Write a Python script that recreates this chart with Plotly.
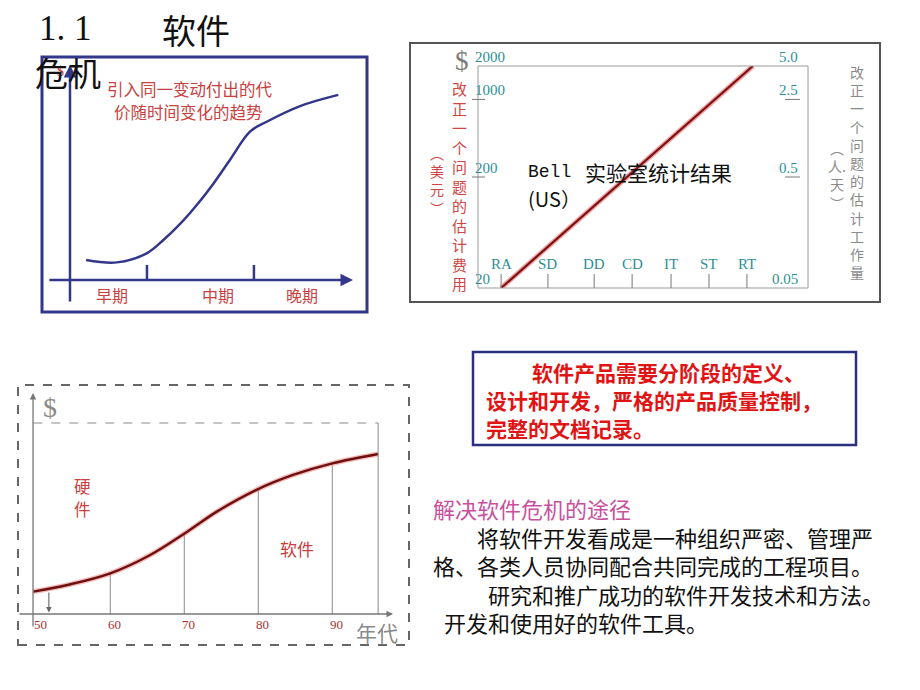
import math
import plotly.graph_objects as go

W, H = 920, 690
CJK = "Noto Sans CJK SC"
SERIF = "Liberation Serif"
MONO = "Liberation Mono"

# ---------------- data ----------------
# Panel 1: cost of introducing the same change over time (conceptual)
p1_time = [0.57, 1.65, 2.71, 3.30, 3.89, 4.48, 5.06, 5.65, 6.36, 6.95, 8.13, 9.48]
p1_cost = [0.93, 0.82, 1.24, 1.86, 2.61, 3.49, 4.47, 5.58, 6.90, 7.36, 8.09, 8.61]
p1_stage_bounds = [2.72, 6.50]
p1_stage_names = ["早期", "中期", "晚期"]
p1_stage_centers = [1.48, 5.23, 8.20]

# Panel 2: Bell Labs statistics (log scales)
phases = ["RA", "SD", "DD", "CD", "IT", "ST", "RT"]
phase_pos = [0.70, 2.12, 3.52, 4.67, 5.85, 7.00, 8.15]
line_x = phase_pos + [8.33]
line_cost = [20, 47, 110, 220, 450, 900, 1800, 2000]
left_ticks = [20, 200, 1000, 2000]
left_tick_text = ["20", "200", "1000", "2000"]
right_ticks = [0.05, 0.5, 2.5, 5.0]
right_tick_text = ["0.05", "0.5", "2.5", "5.0"]

# Panel 3: software share of cost by decade
years = [49.6, 54.2, 60.0, 65.4, 70.4, 74.4, 79.7, 84.7, 90.0, 96.2]
sw_share = [11.7, 15.2, 21.3, 30.9, 43.1, 53.6, 64.9, 72.8, 78.9, 83.8]
decades = [50, 60, 70, 80, 90]
decade_lines = [60, 70, 80, 90]
decade_line_share = [21.3, 42.0, 65.0, 78.9]

# Text blocks
box_lines = ["软件产品需要分阶段的定义、", "设计和开发，严格的产品质量控制，", "完整的文档记录。"]
way_title = "解决软件危机的途径"
way_lines = ["\u3000\u3000将软件开发看成是一种组织严密、管理严",
             "格、各类人员协同配合共同完成的工程项目。",
             "\u3000\u3000\u2002研究和推广成功的软件开发技术和方法。",
             "\u2002开发和使用好的软件工具。"]


def px(x):
    return x / W


def py(y):
    return 1 - y / H


NAVY = "#33378a"
RED_T = "#c8413f"
TEAL = "#2f8f8f"

fig = go.Figure()

# Panel 1 curve
fig.add_trace(go.Scatter(x=p1_time, y=p1_cost, mode="lines", xaxis="x", yaxis="y",
                         line=dict(color=NAVY, width=2.5, shape="spline"), hoverinfo="skip"))

# Panel 2 line (halo + core)
fig.add_trace(go.Scatter(x=line_x, y=line_cost, mode="lines", xaxis="x2", yaxis="y2",
                         line=dict(color="#e66a6a", width=5), opacity=0.6, hoverinfo="skip"))
fig.add_trace(go.Scatter(x=line_x, y=line_cost, mode="lines", xaxis="x2", yaxis="y2",
                         line=dict(color="#7d1111", width=2.2), hoverinfo="skip"))
fig.add_trace(go.Scatter(x=[None] * len(right_ticks), y=right_ticks, mode="markers",
                         xaxis="x2", yaxis="y3", hoverinfo="skip"))

# Panel 3 decade lines
vx, vy = [], []
for d, s in zip(decade_lines, decade_line_share):
    vx += [d, d, None]
    vy += [0, s, None]
fig.add_trace(go.Scatter(x=vx, y=vy, mode="lines", xaxis="x3", yaxis="y4",
                         line=dict(color="#8a8a8a", width=1), hoverinfo="skip"))
# Panel 3 curve
fig.add_trace(go.Scatter(x=years, y=sw_share, mode="lines", xaxis="x3", yaxis="y4",
                         line=dict(color="#ee8080", width=5, shape="spline"), opacity=0.55,
                         hoverinfo="skip"))
fig.add_trace(go.Scatter(x=years, y=sw_share, mode="lines", xaxis="x3", yaxis="y4",
                         line=dict(color="#6e1010", width=2.4, shape="spline"), hoverinfo="skip"))

ax_off = dict(visible=False, fixedrange=True)

shapes = []
# Panel 1 frame
shapes.append(dict(type="rect", xref="paper", yref="paper", x0=px(42), x1=px(367),
                   y0=py(312), y1=py(57), line=dict(color=NAVY, width=3)))
for b in p1_stage_bounds:
    shapes.append(dict(type="line", xref="x", yref="y", x0=b, x1=b, y0=0, y1=0.70,
                       line=dict(color=NAVY, width=2.5)))
# Panel 2 frames
shapes.append(dict(type="rect", xref="paper", yref="paper", x0=px(410), x1=px(880),
                   y0=py(302), y1=py(43), line=dict(color="#555555", width=2)))
shapes.append(dict(type="rect", xref="x2 domain", yref="y2 domain", x0=0, x1=1, y0=0, y1=1,
                   line=dict(color="#9a9a9a", width=1)))
for p in phase_pos:
    shapes.append(dict(type="line", xref="x2", yref="y2 domain", x0=p, x1=p, y0=0, y1=14 / 222,
                       line=dict(color="#777777", width=1)))
for v in [200, 1000]:
    shapes.append(dict(type="line", xref="paper", yref="y2", x0=px(472), x1=px(485), y0=v, y1=v,
                       line=dict(color="#777777", width=1)))
for v in [0.5, 2.5]:
    shapes.append(dict(type="line", xref="paper", yref="y3", x0=px(785), x1=px(800), y0=v, y1=v,
                       line=dict(color="#777777", width=1)))
# Panel 3 frames
shapes.append(dict(type="rect", xref="paper", yref="paper", x0=px(18), x1=px(409),
                   y0=py(645), y1=py(385), line=dict(color="#666666", width=2, dash="dash")))
shapes.append(dict(type="line", xref="x3", yref="y4", x0=years[0], x1=years[-1], y0=100, y1=100,
                   line=dict(color="#8a8a8a", width=1, dash="dash")))
shapes.append(dict(type="line", xref="x3", yref="y4", x0=years[-1], x1=years[-1], y0=0, y1=100,
                   line=dict(color="#8a8a8a", width=1)))
# Panel 4 frame
shapes.append(dict(type="rect", xref="paper", yref="paper", x0=px(473), x1=px(856),
                   y0=py(445), y1=py(352), line=dict(color="#2b2f7f", width=2.5)))

ann = []


def txt(x, y, text, size, color, family=CJK, xanchor="center", xref="paper", yref="paper", **kw):
    d = dict(x=x, y=y, text=text, showarrow=False, xref=xref, yref=yref, xanchor=xanchor,
             yanchor="middle", font=dict(size=size, color=color, family=family))
    d.update(kw)
    ann.append(d)


def arrow(x, y, axv, ayv, xref, yref, color, width):
    ann.append(dict(x=x, y=y, ax=axv, ay=ayv, xref=xref, yref=yref, axref=xref, ayref=yref,
                    text="", showarrow=True, arrowhead=2, arrowsize=1, arrowwidth=width,
                    arrowcolor=color))


# Panel 1 axes arrows
arrow(10.0, 0, -0.78, 0, "x", "y", NAVY, 2.5)
arrow(0, 10.0, 0, -1.07, "x", "y", NAVY, 2.5)
txt(px(60), py(72), "$", 14, RED_T, SERIF)
txt(px(190), py(88.5), "引入同一变动付出的代", 16.5, RED_T)
txt(px(188), py(111.5), "价随时间变化的趋势", 16.5, RED_T)
for name, c in zip(p1_stage_names, p1_stage_centers):
    txt(c, py(295), name, 16, RED_T, xref="x")

# Title
txt(px(37), py(28), "1. 1", 35, "#111111", SERIF, xanchor="left")
txt(px(160), py(29), "软件", 34, "#111111", xanchor="left")
txt(px(33), py(72), "危机", 33, "#111111", xanchor="left")

# Panel 2 labels
for v, t in zip(left_ticks, left_tick_text):
    txt(px(473), math.log10(v), t, 15, TEAL, SERIF, xanchor="left", yref="y2", yshift=9)
for v, t in zip(right_ticks, right_tick_text):
    txt(px(800), math.log10(v), t, 15, TEAL, SERIF, xanchor="right", yref="y3", yshift=9)
for p, t in zip(phase_pos, phases):
    txt(p, 0, t, 15, TEAL, SERIF, xref="x2", yref="y2 domain", yshift=24)
txt(px(462), py(61), "$", 27, "#7a7a7a", SERIF)
txt(px(459), py(186), "<br>".join("改正一个问题的估计费用"), 15, "#d04545")
txt(px(437), py(181), "︵<br>美<br>元<br>︶", 14, "#d04545")
txt(px(857), py(172), "<br>".join("改正一个问题的估计工作量"), 14, "#8a8a8a")
txt(px(837), py(176), "︵<br>人.<br>天<br>︶", 14, "#8a8a8a")
txt(px(526), py(172), "Bell", 18, "#111111", MONO, xanchor="left")
txt(px(583), py(172), "实验室统计结果", 21, "#111111", xanchor="left")
txt(px(526), py(198), "(US）", 20, "#111111", xanchor="left")

# Panel 3 labels & arrows
arrow(98.21, 0, 47.53, 0, "x3", "y4", "#777777", 1.3)
arrow(49.56, 115.7, 49.56, -7.3, "x3", "y4", "#777777", 1.3)
arrow(51.7, 0.8, 51.7, 12.0, "x3", "y4", "#666666", 1.1)
for d in decades:
    txt(d, 0, str(d), 13, "#a83232", SERIF, xref="x3", yref="y4", yshift=-10, xshift=4)
txt(px(50), py(407), "$", 28, "#8a8a8a", SERIF)
txt(px(377), py(632), "年代", 21, "#8a8a8a")
txt(px(82), py(486), "硬", 16.5, "#c84040")
txt(px(82), py(509), "件", 16.5, "#c84040")
txt(px(297), py(548), "软件", 17, "#c84040")

# Panel 4 text
RED_B = "#e01414"
box_pos = [(530, 372), (484, 400), (484, 428)]
for (bx, by), line in zip(box_pos, box_lines):
    txt(px(bx), py(by), "<b>" + line + "</b>", 21, RED_B, xanchor="left")

# Panel 5 text (one block)
block = '<span style="color:#c8509c">' + way_title + "</span><br>" + "<br>".join(way_lines)
txt(px(431), py(565), block, 22, "#111111", xanchor="left", align="left")

fig.update_layout(
    width=W, height=H, margin=dict(l=0, r=0, t=0, b=0),
    paper_bgcolor="white", plot_bgcolor="rgba(0,0,0,0)", showlegend=False,
    xaxis=dict(ax_off, domain=[px(42), px(367)], range=[-0.989, 10.495], anchor="y"),
    yaxis=dict(ax_off, domain=[py(312), py(57)], range=[-1.488, 10.372], anchor="x"),
    xaxis2=dict(ax_off, domain=[px(478), px(808)], range=[0, 10], anchor="y2"),
    yaxis2=dict(ax_off, domain=[py(288), py(66)], type="log",
                range=[math.log10(20), math.log10(2000)], anchor="x2"),
    yaxis3=dict(ax_off, overlaying="y2", type="log", side="right",
                range=[math.log10(0.05), math.log10(5)], anchor="x2"),
    xaxis3=dict(ax_off, domain=[px(18), px(409)], range=[47.53, 100.37], anchor="y4"),
    yaxis4=dict(ax_off, domain=[py(645), py(385)], range=[-16.23, 119.9], anchor="x3"),
    shapes=shapes, annotations=ann,
)

fig.write_html("out.html")
